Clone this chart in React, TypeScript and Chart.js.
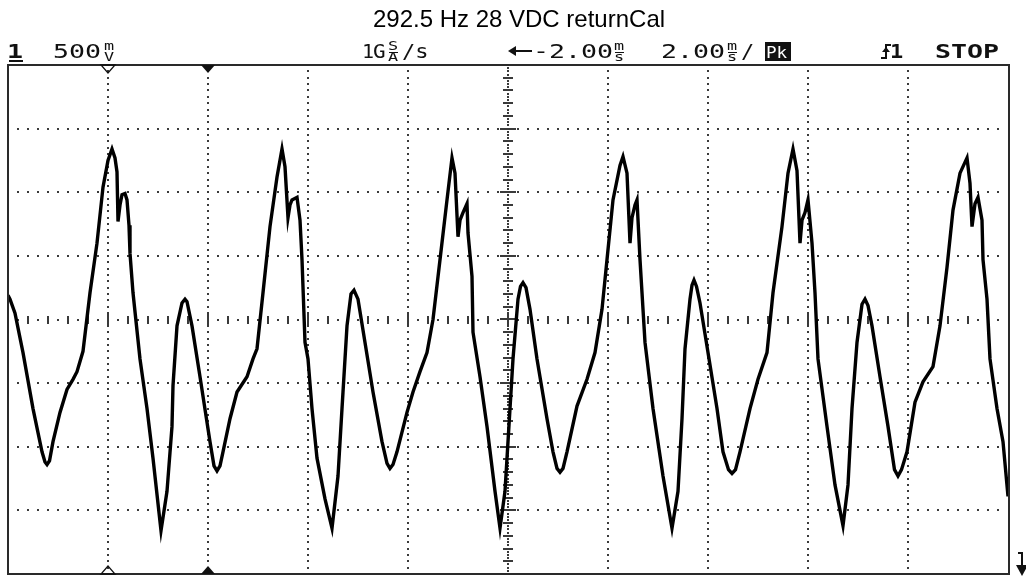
import React, { useEffect, useRef } from "react";
import { Chart, registerables } from "chart.js";

Chart.register(...registerables);

const TITLE = "292.5 Hz 28 VDC returnCal";

// time in ms (screen spans -12 .. 8 ms, 2 ms/div, delay -2 ms at centre)
const timeMs = [
  -12.0, -11.96, -11.86, -11.7, -11.5, -11.32, -11.26, -11.22, -11.17, -11.1,
  -10.96, -10.82, -10.7, -10.62, -10.5, -10.36, -10.22, -10.1, -10.0, -9.92,
  -9.86, -9.82, -9.8, -9.76, -9.72, -9.66, -9.62, -9.58, -9.56, -9.5,
  -9.36, -9.22, -9.1, -8.94, -8.82, -8.72, -8.7, -8.62, -8.52, -8.46,
  -8.42, -8.32, -8.16, -7.96, -7.88, -7.82, -7.76, -7.7, -7.56, -7.42,
  -7.22, -7.1, -7.02, -6.9, -6.76, -6.62, -6.52, -6.46, -6.4, -6.36,
  -6.32, -6.22, -6.16, -6.12, -6.06, -6.0, -5.92, -5.82, -5.66, -5.52,
  -5.4, -5.32, -5.22, -5.14, -5.08, -5.0, -4.86, -4.7, -4.52, -4.42,
  -4.36, -4.3, -4.22, -4.02, -3.9, -3.76, -3.62, -3.5, -3.36, -3.22,
  -3.12, -3.06, -3.0, -2.96, -2.9, -2.82, -2.8, -2.72, -2.7, -2.56,
  -2.42, -2.26, -2.16, -2.06, -2.0, -1.9, -1.8, -1.75, -1.7, -1.64,
  -1.56, -1.42, -1.22, -1.1, -1.02, -0.96, -0.9, -0.82, -0.62, -0.42,
  -0.26, -0.12, -0.02, 0.1, 0.24, 0.3, 0.38, 0.44, 0.48, 0.54,
  0.58, 0.64, 0.74, 0.9, 1.1, 1.28, 1.4, 1.48, 1.54, 1.64,
  1.68, 1.72, 1.77, 1.84, 2.0, 2.18, 2.3, 2.41, 2.48, 2.55,
  2.64, 2.84, 3.0, 3.18, 3.3, 3.48, 3.6, 3.7, 3.78, 3.84,
  3.88, 3.94, 4.0, 4.08, 4.14, 4.2, 4.38, 4.54, 4.7, 4.8,
  4.88, 4.98, 5.08, 5.14, 5.2, 5.28, 5.44, 5.6, 5.73, 5.8,
  5.87, 5.98, 6.14, 6.3, 6.5, 6.64, 6.78, 6.9, 7.04, 7.18,
  7.24, 7.28, 7.34, 7.4, 7.48, 7.5, 7.58, 7.64, 7.78, 7.9,
  8.0,
];

// channel 1 voltage in V (500 mV/div)
const volts = [
  0.19, 0.16, 0.05, -0.26, -0.7, -1.04, -1.12, -1.14, -1.11, -0.96,
  -0.73, -0.55, -0.47, -0.41, -0.25, 0.21, 0.6, 1.04, 1.25, 1.34,
  1.27, 1.16, 0.77, 0.9, 0.98, 0.99, 0.94, 0.74, 0.52, 0.21,
  -0.31, -0.7, -1.09, -1.66, -1.35, -0.84, -0.52, -0.05, 0.13, 0.16,
  0.14, -0.05, -0.45, -0.96, -1.15, -1.19, -1.15, -1.04, -0.78, -0.57,
  -0.45, -0.31, -0.23, 0.21, 0.73, 1.12, 1.34, 1.2, 0.8, 0.9,
  0.94, 0.96, 0.78, 0.47, -0.18, -0.31, -0.7, -1.09, -1.41, -1.64,
  -1.23, -0.7, -0.05, 0.2, 0.23, 0.16, -0.18, -0.57, -0.96, -1.13,
  -1.17, -1.14, -1.04, -0.73, -0.57, -0.41, -0.26, 0.0, 0.47, 0.94,
  1.27, 1.15, 0.65, 0.78, 0.84, 0.91, 0.68, 0.34, -0.1, -0.45,
  -0.84, -1.35, -1.64, -1.35, -0.96, -0.31, 0.16, 0.26, 0.29, 0.25,
  0.08, -0.31, -0.78, -1.04, -1.17, -1.2, -1.17, -1.04, -0.68, -0.47,
  -0.26, 0.08, 0.47, 0.94, 1.21, 1.28, 1.15, 0.6, 0.8, 0.9,
  0.94, 0.47, -0.18, -0.7, -1.23, -1.64, -1.35, -0.78, -0.23, 0.16,
  0.27, 0.31, 0.26, 0.13, -0.26, -0.7, -1.04, -1.18, -1.21, -1.18,
  -1.04, -0.7, -0.47, -0.26, 0.21, 0.73, 1.15, 1.34, 1.17, 0.6,
  0.78, 0.84, 0.94, 0.6, 0.21, -0.31, -0.84, -1.3, -1.62, -1.3,
  -0.7, -0.18, 0.12, 0.16, 0.11, -0.05, -0.45, -0.84, -1.18, -1.23,
  -1.18, -1.04, -0.65, -0.49, -0.37, -0.05, 0.41, 0.86, 1.15, 1.27,
  1.07, 0.73, 0.91, 0.96, 0.78, 0.47, 0.16, -0.31, -0.7, -0.96,
  -1.39,
];

const X_MIN = -12;
const X_MAX = 8;
const Y_MIN = -2;
const Y_MAX = 2;
const xGridMs = [-10, -8, -6, -4, -2, 0, 2, 4, 6];
const yGridV = [-1.5, -1, -0.5, 0, 0.5, 1, 1.5];
const X_CENTER = -2;
const Y_CENTER = 0;
const trigMarkMs = -10; // hollow triangle
const delayMarkMs = -8; // filled triangle

const MONO = "'DejaVu Sans Mono', 'Liberation Mono', monospace";

function scopeText(ctx: CanvasRenderingContext2D, s: string, x: number, base: number, size: number, bold = false, sx = 1.33, color = "#111") {
  ctx.save();
  ctx.font = `${bold ? "bold " : ""}${size}px ${MONO}`;
  ctx.fillStyle = color;
  ctx.textAlign = "left";
  ctx.textBaseline = "alphabetic";
  ctx.translate(x, base);
  ctx.scale(sx, 1);
  ctx.fillText(s, 0, 0);
  ctx.restore();
}

function stacked(ctx: CanvasRenderingContext2D, top: string, bottom: string, x: number, bar = false) {
  scopeText(ctx, top, x, 50, 12, false, 1.4);
  scopeText(ctx, bottom, x, 61, 12, false, 1.4);
  if (bar) {
    ctx.fillStyle = "#111";
    ctx.fillRect(x + 1, 52, 9, 1);
  }
}

const scopePlugin = {
  id: "scopeDecor",
  beforeDatasetsDraw(chart: any) {
    const { ctx, chartArea: a, scales } = chart;
    const x = scales.x;
    const y = scales.y;
    ctx.save();
    ctx.fillStyle = "#3a3a3a";
    const dx = (x.getPixelForValue(2) - x.getPixelForValue(0)) / 10;
    const dy = (y.getPixelForValue(0) - y.getPixelForValue(0.5)) / 10;
    // horizontal dotted graticule lines
    for (const v of yGridV) {
      if (v === Y_CENTER) continue;
      const py = Math.round(y.getPixelForValue(v));
      for (let px = a.left + dx; px < a.right - 2; px += dx) ctx.fillRect(Math.round(px) - 1, py - 1, 2, 2);
    }
    // vertical dotted graticule lines
    for (const t of xGridMs) {
      if (t === X_CENTER) continue;
      const px = Math.round(x.getPixelForValue(t));
      for (let py = a.top + dy; py < a.bottom - 2; py += dy) ctx.fillRect(px - 1, Math.round(py) - 1, 2, 2);
    }
    // centre horizontal axis with ticks
    const cy = Math.round(y.getPixelForValue(Y_CENTER));
    let k = 1;
    for (let px = a.left + dx; px < a.right - 2; px += dx, k++) {
      const rx = Math.round(px);
      if (k % 10 === 0) ctx.fillRect(rx - 1, cy - 7, 2, 14);
      else if (k % 2 === 0) ctx.fillRect(rx - 1, cy - 4, 2, 8);
      else ctx.fillRect(rx - 1, cy - 1, 2, 2);
    }
    // centre vertical axis with ticks
    const cx = Math.round(x.getPixelForValue(X_CENTER));
    k = 1;
    for (let py = a.top + dy / 2; py < a.bottom - 2; py += dy / 2, k++) {
      const ry = Math.round(py);
      if (k % 20 === 0) ctx.fillRect(cx - 8, ry - 1, 16, 2);
      else if (k % 4 === 0) ctx.fillRect(cx - 5, ry - 1, 10, 2);
      else ctx.fillRect(cx - 1, ry - 1, 2, 2);
    }
    ctx.restore();
  },
  afterDraw(chart: any) {
    const { ctx, chartArea: a, scales } = chart;
    const x = scales.x;
    ctx.save();
    // frame
    ctx.fillStyle = "#2a2a2a";
    ctx.fillRect(a.left - 1, a.top - 1, a.right - a.left + 3, 2);
    ctx.fillRect(a.left - 1, a.bottom - 1, a.right - a.left + 3, 2);
    ctx.fillRect(a.left - 1, a.top - 1, 2, a.bottom - a.top + 1);
    ctx.fillRect(a.right, a.top - 1, 2, a.bottom - a.top + 1);

    // markers: hollow triangles (trigger point) and filled (delay reference)
    const tx = Math.round(x.getPixelForValue(trigMarkMs));
    const dxp = Math.round(x.getPixelForValue(delayMarkMs));
    ctx.lineWidth = 1.3;
    ctx.strokeStyle = "#111";
    ctx.fillStyle = "#111";
    const tri = (cx: number, y0: number, dir: number, filled: boolean) => {
      ctx.beginPath();
      ctx.moveTo(cx - 7, y0);
      ctx.lineTo(cx + 7, y0);
      ctx.lineTo(cx, y0 + dir * 8);
      ctx.closePath();
      if (filled) ctx.fill();
      else ctx.stroke();
    };
    tri(tx, a.top, 1, false);
    tri(tx, a.bottom, -1, false);
    tri(dxp, a.top, 1, true);
    tri(dxp, a.bottom, -1, true);

    // ground / level marker at right
    ctx.fillRect(1021, 552, 2, 16);
    ctx.fillRect(1018, 552, 4, 2);
    ctx.beginPath();
    ctx.moveTo(1016, 565);
    ctx.lineTo(1028, 565);
    ctx.lineTo(1022, 576);
    ctx.closePath();
    ctx.fill();

    // title
    ctx.font = "24px 'Liberation Sans', Arial, sans-serif";
    ctx.fillStyle = "#000";
    ctx.textAlign = "center";
    ctx.textBaseline = "alphabetic";
    ctx.fillText(TITLE, 519, 27);

    // status line
    scopeText(ctx, "1", 7, 58, 20, true);
    ctx.fillStyle = "#111";
    ctx.fillRect(9, 60, 14, 2);
    scopeText(ctx, "500", 53, 58, 20);
    stacked(ctx, "m", "V", 104);
    scopeText(ctx, "1", 362, 58, 20, false, 1.0);
    scopeText(ctx, "G", 373, 58, 20, false, 1.05);
    stacked(ctx, "S", "A", 388, true);
    scopeText(ctx, "/s", 402, 58, 20, false, 1.1);
    // arrow
    ctx.fillStyle = "#111";
    ctx.fillRect(512, 50, 20, 2);
    ctx.beginPath();
    ctx.moveTo(508, 51);
    ctx.lineTo(516, 46);
    ctx.lineTo(516, 56);
    ctx.closePath();
    ctx.fill();
    scopeText(ctx, "-2.00", 533, 58, 20);
    stacked(ctx, "m", "s", 614, true);
    scopeText(ctx, "2.00", 661, 58, 20);
    stacked(ctx, "m", "s", 727, true);
    scopeText(ctx, "/", 741, 58, 20, false, 1.1);
    ctx.fillStyle = "#111";
    ctx.fillRect(765, 42, 26, 19);
    scopeText(ctx, "Pk", 766, 58, 16, false, 1.1, "#fff");
    // trigger edge symbol
    ctx.fillStyle = "#111";
    ctx.fillRect(885, 44, 2, 15);
    ctx.fillRect(881, 57, 5, 2);
    ctx.fillRect(886, 44, 5, 2);
    ctx.beginPath();
    ctx.moveTo(882, 52);
    ctx.lineTo(890, 52);
    ctx.lineTo(886, 47);
    ctx.closePath();
    ctx.fill();
    scopeText(ctx, "1", 890, 58, 20, true, 1.1);
    scopeText(ctx, "STOP", 935, 58, 20, true, 1.33);
    ctx.restore();
  },
};

export default function App() {
  const ref = useRef<HTMLCanvasElement>(null);
  useEffect(() => {
    const canvas = ref.current;
    if (!canvas) return;
    const chart = new Chart(canvas, {
      type: "line",
      data: {
        datasets: [
          {
            label: "Channel 1",
            data: timeMs.map((t, i) => ({ x: t, y: volts[i] })),
            borderColor: "#000",
            borderWidth: 3.4,
            pointRadius: 0,
            tension: 0,
            fill: false,
          },
        ],
      },
      options: {
        animation: false,
        responsive: false,
        maintainAspectRatio: false,
        events: [],
        layout: { padding: { left: 8, right: 18, top: 65, bottom: 3 } },
        scales: {
          x: { type: "linear", min: X_MIN, max: X_MAX, display: false },
          y: { type: "linear", min: Y_MIN, max: Y_MAX, display: false },
        },
        plugins: {
          legend: { display: false },
          tooltip: { enabled: false },
          title: { display: false },
        },
      },
      plugins: [scopePlugin],
    });
    return () => chart.destroy();
  }, []);
  return (
    <canvas
      ref={ref}
      width={1026}
      height={577}
      style={{ position: "absolute", left: 0, top: 0, width: 1026, height: 577, background: "#fff" }}
    />
  );
}
